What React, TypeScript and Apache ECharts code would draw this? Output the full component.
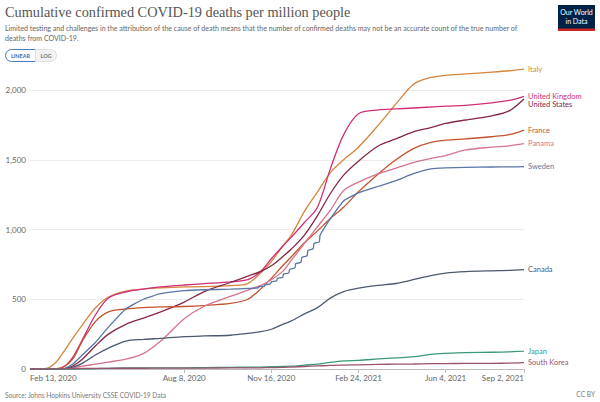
import React, { useEffect, useRef } from "react";
import * as echarts from "echarts";

// Days since Feb 13, 2020
const days = [0, 20, 30, 40, 50, 60, 75, 90, 110, 130, 150, 177, 200, 230, 250, 265, 277, 290, 300, 315, 330, 345, 360, 377, 400, 420, 440, 460, 477, 500, 530, 550, 567];
// Sweden reported in weekly batches during the second wave, so it has its own dates
const swedenDays = [0, 20, 30, 40, 50, 60, 75, 90, 110, 130, 150, 177, 200, 230, 250, 262, 263, 269, 270, 276, 277, 283, 284, 290, 291, 297, 298, 304, 305, 311, 312, 318, 319, 325, 326, 332, 333, 345, 360, 377, 400, 420, 440, 460, 477, 500, 530, 550, 567];

const italy = [0, 7, 50, 136, 229, 315, 437, 516, 559, 573, 581, 588, 590, 598, 612, 690, 770, 880, 960, 1130, 1270, 1410, 1500, 1590, 1750, 1900, 2040, 2090, 2105, 2115, 2128, 2138, 2150];
const unitedKingdom = [0, 0, 0, 21, 93, 208, 387, 509, 552, 573, 588, 602, 612, 625, 640, 700, 790, 880, 945, 1050, 1160, 1440, 1680, 1830, 1857, 1864, 1871, 1878, 1885, 1890, 1908, 1925, 1955];
const unitedStates = [0, 0, 0, 2, 25, 70, 165, 250, 320, 365, 410, 480, 555, 620, 665, 700, 740, 805, 860, 960, 1100, 1260, 1390, 1490, 1600, 1650, 1700, 1730, 1760, 1785, 1815, 1850, 1935];
const france = [0, 0, 2, 20, 80, 200, 340, 410, 430, 440, 445, 448, 455, 470, 500, 575, 650, 740, 805, 905, 990, 1080, 1160, 1270, 1400, 1500, 1580, 1625, 1640, 1650, 1665, 1680, 1713];
const panama = [0, 0, 0, 2, 8, 20, 35, 50, 70, 110, 200, 360, 450, 520, 565, 600, 640, 700, 780, 900, 1020, 1140, 1280, 1340, 1400, 1440, 1480, 1510, 1530, 1570, 1590, 1600, 1615];
const sweden = [0, 0, 0, 5, 40, 100, 190, 300, 430, 500, 540, 562, 568, 572, 578, 582, 590, 594, 605, 610, 625, 632, 650, 657, 680, 688, 715, 725, 755, 765, 800, 812, 850, 862, 900, 912, 960, 1080, 1205, 1262, 1310, 1350, 1400, 1435, 1442, 1445, 1448, 1449, 1450];
const canada = [0, 0, 0, 3, 15, 40, 100, 150, 200, 212, 220, 232, 237, 242, 255, 268, 285, 320, 345, 395, 440, 510, 555, 580, 600, 613, 640, 670, 688, 698, 704, 707, 712];
const japan = [0, 0, 0, 0, 0, 0.5, 3, 5, 7, 8, 8, 8, 10, 12, 13, 14, 16, 18, 20, 28, 35, 48, 58, 62, 72, 80, 88, 105, 112, 118, 120, 123, 128];
const southKorea = [0, 0, 1, 2, 3, 4, 5, 5, 5.5, 5.5, 5.7, 6, 6.5, 8, 8.5, 9, 10, 11, 14, 18, 22, 26, 28, 30, 33, 35, 36, 38, 39, 40, 41, 42, 45];

const countries = ["Italy", "United Kingdom", "United States", "France", "Panama", "Sweden", "Canada", "Japan", "South Korea"];
const seriesValues = [italy, unitedKingdom, unitedStates, france, panama, sweden, canada, japan, southKorea];
const seriesDays = [days, days, days, days, days, swedenDays, days, days, days];
const colors = ["#d6843e", "#cf2f78", "#862745", "#c4522e", "#d8728d", "#5a76a6", "#4b5a6f", "#389a76", "#9a5272"];

const xTickDays = [0, 177, 277, 377, 477, 567];
const xTickLabels = ["Feb 13, 2020", "Aug 8, 2020", "Nov 16, 2020", "Feb 24, 2021", "Jun 4, 2021", "Sep 2, 2021"];
const yTicks = [0, 500, 1000, 1500, 2000];

const FONT = "Lato, 'Noto Sans', sans-serif";

export default function App() {
  const ref = useRef<HTMLDivElement>(null);
  useEffect(() => {
    document.body.style.margin = "0";
    const chart = echarts.init(ref.current!, undefined, { renderer: "svg" });
    const series = countries.map((name, i) => ({
      name,
      type: "line",
      data: seriesDays[i].map((d, j) => [d, seriesValues[i][j]]),
      showSymbol: false,
      smooth: name === "Sweden" ? 0.15 : 0.3,
      clip: false,
      lineStyle: { color: colors[i], width: 1.3 },
      itemStyle: { color: colors[i] },
      endLabel: {
        show: true,
        formatter: "{a}",
        color: colors[i],
        fontSize: 7.5,
        fontFamily: FONT,
        distance: 4,
      },
      labelLayout: { moveOverlap: "shiftY" },
    }));
    chart.setOption({
      animation: false,
      backgroundColor: "#fff",
      grid: { left: 30, right: 76, top: 90, bottom: 33, outerBoundsMode: "none" },
      xAxis: {
        type: "value",
        min: 0,
        max: 567,
        splitLine: { show: false },
        axisLine: { show: true, lineStyle: { color: "#bbb", width: 1 } },
        axisTick: { show: true, length: 4, lineStyle: { color: "#bbb" }, customValues: xTickDays.slice(1) },
        axisLabel: {
          customValues: xTickDays,
          formatter: (v: number) => xTickLabels[xTickDays.indexOf(Math.round(v))] ?? "",
          color: "#666",
          fontSize: 8,
          fontFamily: FONT,
          margin: 5,
          alignMinLabel: "left",
          alignMaxLabel: "right",
        },
      },
      yAxis: {
        type: "value",
        min: 0,
        max: 2000,
        interval: 500,
        axisLine: { show: false },
        axisTick: { show: false },
        splitLine: { lineStyle: { color: "#ebebeb", width: 1 } },
        axisLabel: {
          color: "#666",
          fontSize: 8,
          fontFamily: FONT,
          margin: 4,
          formatter: (v: number) => (yTicks.includes(v) ? v.toLocaleString("en-US") : ""),
        },
      },
      series,
      graphic: [
        {
          type: "text",
          left: 5,
          top: 5,
          style: {
            text: "Cumulative confirmed COVID-19 deaths per million people",
            fontFamily: "'Liberation Serif', 'DejaVu Serif', serif",
            fontSize: 14.3,
            fill: "#555",
          },
        },
        {
          type: "text",
          left: 5,
          top: 23,
          style: {
            text: "Limited testing and challenges in the attribution of the cause of death means that the number of confirmed deaths may not be an accurate count of the true number of\ndeaths from COVID-19.",
            fontFamily: FONT,
            fontSize: 7.05,
            lineHeight: 10.5,
            fill: "#666",
          },
        },
        // Linear / Log toggle
        {
          type: "rect",
          shape: { x: 5.5, y: 49.5, width: 30, height: 12, r: [6, 0, 0, 6] },
          style: { fill: "#fff", stroke: "#4a7cc0", lineWidth: 1 },
        },
        {
          type: "rect",
          shape: { x: 35.5, y: 49.5, width: 21, height: 12, r: [0, 6, 6, 0] },
          style: { fill: "#f2f2f2", stroke: "#e0e0e0", lineWidth: 1 },
        },
        {
          type: "text",
          x: 20.5,
          y: 55.5,
          style: { text: "LINEAR", fontFamily: FONT, fontSize: 5.5, fontWeight: "bold", fill: "#3d6fb0", align: "center", verticalAlign: "middle" },
        },
        {
          type: "text",
          x: 46,
          y: 55.5,
          style: { text: "LOG", fontFamily: FONT, fontSize: 5.5, fontWeight: "bold", fill: "#777", align: "center", verticalAlign: "middle" },
        },
        // Logo
        {
          type: "rect",
          shape: { x: 558, y: 5, width: 37, height: 26 },
          style: { fill: "#002147" },
        },
        {
          type: "rect",
          shape: { x: 558, y: 28.5, width: 37, height: 2.5 },
          style: { fill: "#ce261e" },
        },
        {
          type: "text",
          x: 576.5,
          y: 12,
          style: { text: "Our World", fontFamily: FONT, fontSize: 7, fill: "#fff", align: "center", verticalAlign: "middle" },
        },
        {
          type: "text",
          x: 576.5,
          y: 21,
          style: { text: "in Data", fontFamily: FONT, fontSize: 7, fill: "#fff", align: "center", verticalAlign: "middle" },
        },
        // Footer
        {
          type: "text",
          x: 5,
          y: 395,
          style: { text: "Source: Johns Hopkins University CSSE COVID-19 Data", fontFamily: FONT, fontSize: 6.6, fill: "#777", verticalAlign: "middle" },
        },
        {
          type: "text",
          x: 595,
          y: 393.5,
          style: { text: "CC BY", fontFamily: FONT, fontSize: 6.6, fill: "#777", align: "right", verticalAlign: "middle" },
        },
      ],
    });
    return () => chart.dispose();
  }, []);
  return <div ref={ref} style={{ position: "absolute", left: 0, top: 0, width: 600, height: 402 }} />;
}
